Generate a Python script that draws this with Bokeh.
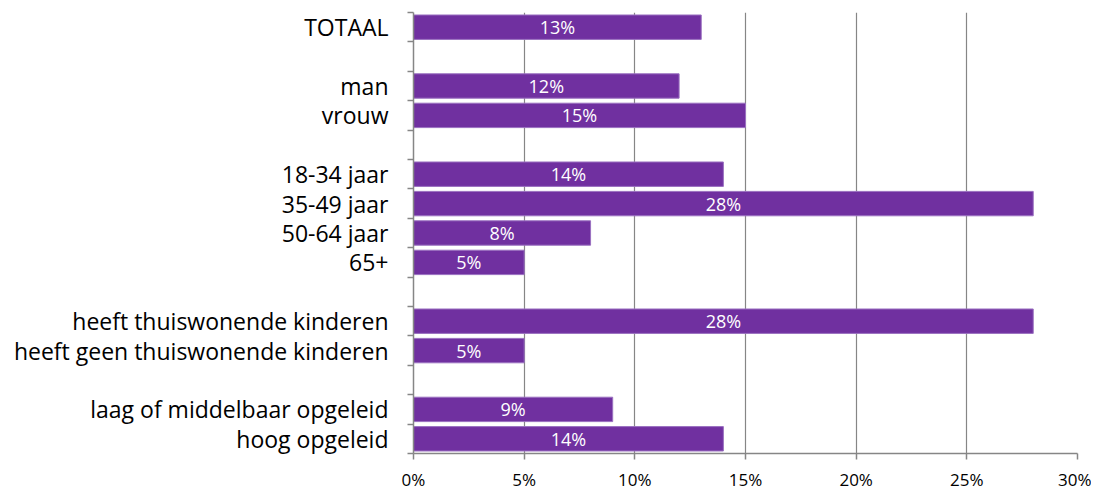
from bokeh.plotting import figure
from bokeh.models import Range1d, FixedTicker, ColumnDataSource, NumeralTickFormatter, LabelSet
from bokeh.core.properties import value
from bokeh.embed import file_html
from bokeh.resources import INLINE

# Data: groups of categories (blank row between groups)
groups = [
    ["TOTAAL"],
    ["man", "vrouw"],
    ["18-34 jaar", "35-49 jaar", "50-64 jaar", "65+"],
    ["heeft thuiswonende kinderen", "heeft geen thuiswonende kinderen"],
    ["laag of middelbaar opgeleid", "hoog opgeleid"],
]
group_values = [
    [0.13],
    [0.12, 0.15],
    [0.14, 0.28, 0.08, 0.05],
    [0.28, 0.05],
    [0.09, 0.14],
]
x_ticks = [0, 0.05, 0.10, 0.15, 0.20, 0.25, 0.30]

cats, vals, rows = [], [], []
r = 0
for gi, (g, v) in enumerate(zip(groups, group_values)):
    for c, val in zip(g, v):
        cats.append(c)
        vals.append(val)
        rows.append(r)
        r += 1
    if gi < len(groups) - 1:
        r += 1
n_rows = r

src = ColumnDataSource(dict(
    y=rows, v=vals, half=[x / 2 for x in vals],
    lab=[f"{round(x * 100)}%" for x in vals],
))

PURPLE = "#7030A0"
GRAY = "#868686"
FONT = "Open Sans"

p = figure(frame_width=664, frame_height=441, output_backend="svg", toolbar_location=None,
           x_range=Range1d(0, 0.30), y_range=Range1d(n_rows - 0.5, -0.5),
           min_border_left=413, min_border_right=14, min_border_top=12, min_border_bottom=30)
p.outline_line_color = None

p.hbar(y="y", left=0, right="v", height=0.83, source=src,
       fill_color=PURPLE, line_color="#9a70c0", line_width=1)

labels = LabelSet(x="half", y="y", text="lab", source=src, text_color="white",
                  text_align="center", text_baseline="middle", text_font_size="18px",
                  text_font=value(FONT))
p.add_layout(labels)

# x axis
p.xaxis.ticker = FixedTicker(ticks=x_ticks)
p.xaxis.formatter = NumeralTickFormatter(format="0%")
p.xaxis.axis_line_color = GRAY
p.xaxis.axis_line_width = 1.5
p.xaxis.major_tick_line_color = GRAY
p.xaxis.major_tick_line_width = 1.5
p.xaxis.major_tick_out = 6
p.xaxis.major_tick_in = 0
p.xaxis.minor_tick_line_color = None
p.xaxis.major_label_text_font = FONT
p.xaxis.major_label_text_font_size = "17px"
p.xaxis.major_label_text_color = "#000000"
p.xaxis.major_label_standoff = 8

# y axis: labels at row centres, tick marks at row boundaries
p.yaxis.ticker = FixedTicker(ticks=rows, minor_ticks=[i - 0.5 for i in range(n_rows + 1)])
p.yaxis.major_label_overrides = {rr: c for rr, c in zip(rows, cats)}
p.yaxis.axis_line_color = GRAY
p.yaxis.axis_line_width = 1.5
p.yaxis.major_tick_line_color = None
p.yaxis.minor_tick_line_color = GRAY
p.yaxis.minor_tick_line_width = 1.5
p.yaxis.minor_tick_out = 6
p.yaxis.minor_tick_in = 0
p.yaxis.major_label_text_font = FONT
p.yaxis.major_label_text_font_size = "23px"
p.yaxis.major_label_text_color = "#000000"
p.yaxis.major_label_standoff = 19

p.xgrid.ticker = FixedTicker(ticks=x_ticks)
p.xgrid.grid_line_color = GRAY
p.xgrid.grid_line_width = 1.2
p.ygrid.grid_line_color = None

open("out.html", "w").write(file_html(p, INLINE))
